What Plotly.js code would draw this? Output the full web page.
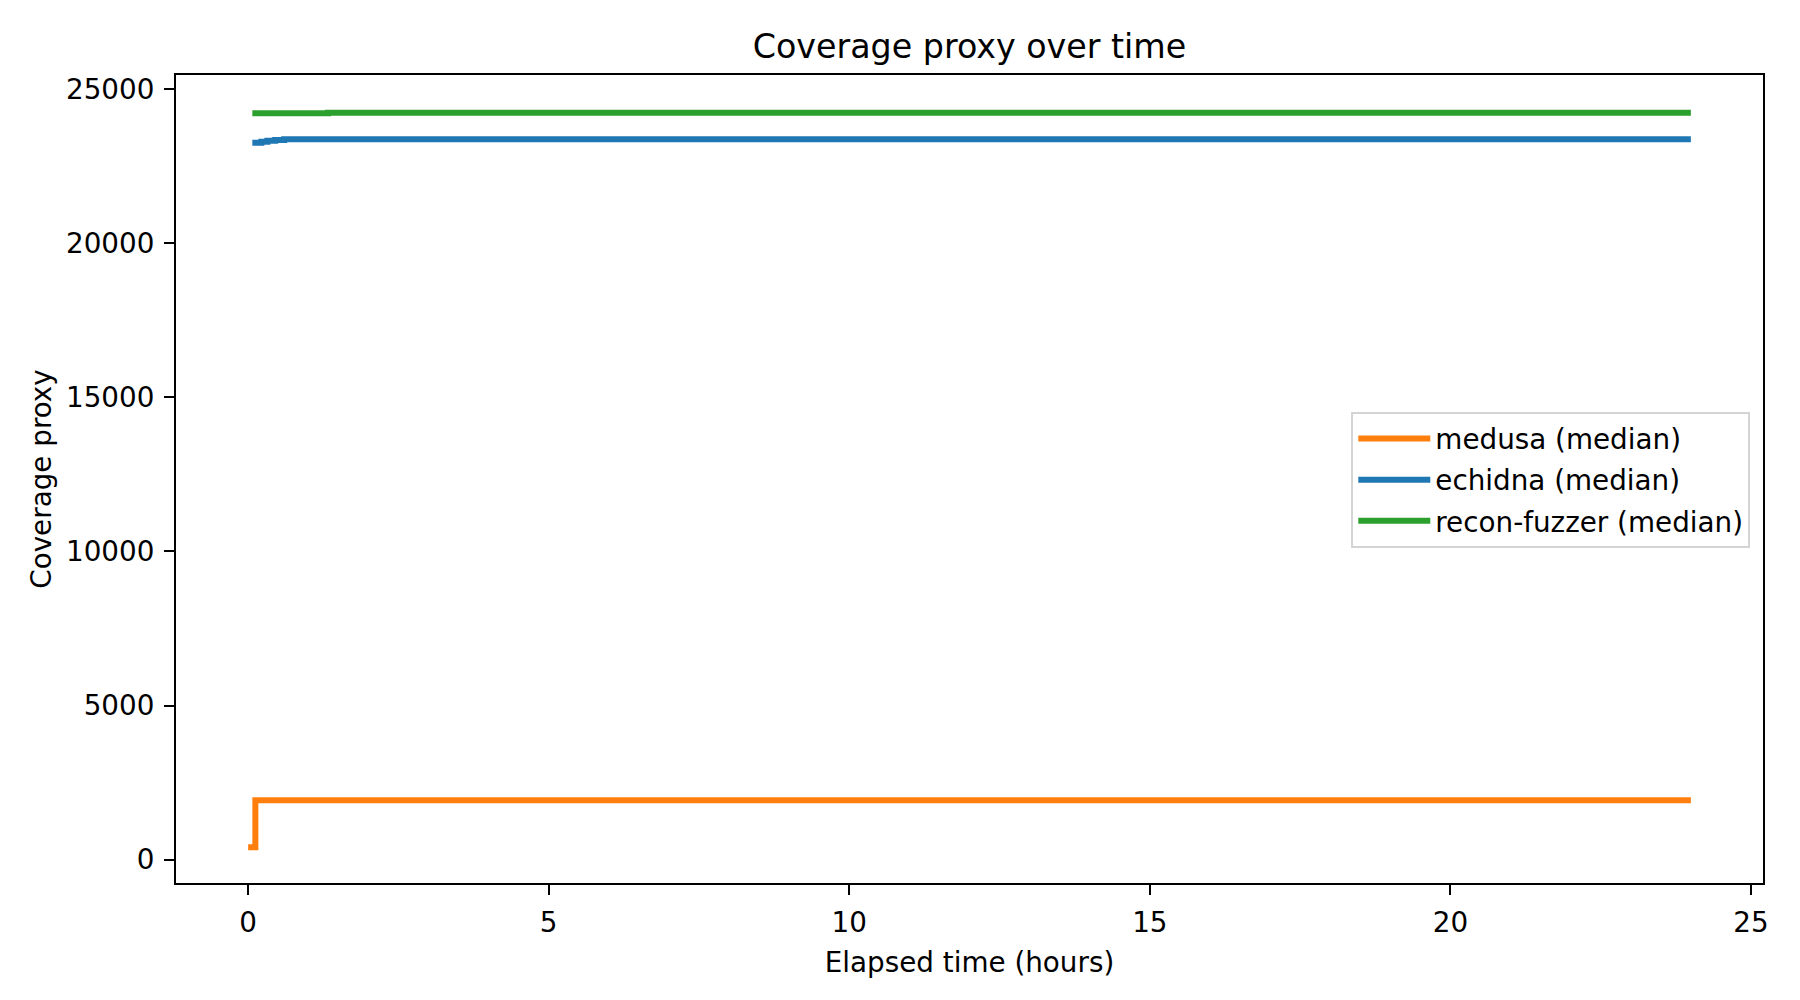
<!DOCTYPE html>
<html>
<head>
<meta charset="utf-8">
<script src="https://cdn.plot.ly/plotly-3.0.1.min.js"></script>
<style>
  html, body { margin: 0; padding: 0; background: #fff; }
  #chart { width: 1800px; height: 1000px; }
</style>
</head>
<body>
<div id="chart"></div>
<script>
"use strict";

// elapsed hours / coverage proxy
const medusaHours = [0, 0.12, 24];
const medusaCoverage = [400, 1925, 1925];

const echidnaHours = [0.07, 0.22, 0.32, 0.45, 0.6, 24];
const echidnaCoverage = [23266, 23300, 23330, 23355, 23377, 23377];

const reconHours = [0.07, 1.33, 24];
const reconCoverage = [24221, 24240, 24240];

const seriesNames = [
    "medusa (median)",
    "echidna (median)",
    "recon-fuzzer (median)",
];

const xTicks = [0, 5, 10, 15, 20, 25];
const yTicks = [0, 5000, 10000, 15000, 20000, 25000];

const font = "DejaVu Sans, sans-serif";

const stepLine = (x, y, name, color) => ({
    type: "scatter",
    mode: "lines",
    x: x,
    y: y,
    name: name,
    legendgroup: name,
    line: {
        shape: "hv",
        color: color,
        width: 6,
    },
});

const traces = [
    stepLine(medusaHours, medusaCoverage, seriesNames[0], "#ff7f0e"),
    stepLine(echidnaHours, echidnaCoverage, seriesNames[1], "#1f77b4"),
    stepLine(reconHours, reconCoverage, seriesNames[2], "#2ca02c"),
];

const axisBase = {
    showline: true,
    linecolor: "#000",
    linewidth: 2,
    mirror: true,
    showgrid: false,
    zeroline: false,
    ticks: "outside",
    ticklen: 10,
    tickwidth: 2,
    tickcolor: "#000",
    tickfont: { family: font, size: 27.8, color: "#000" },
};

Plotly.newPlot(
    "chart",
    traces,
    {
        width: 1800,
        height: 1000,
        paper_bgcolor: "#fff",
        plot_bgcolor: "#fff",
        font: { family: font, color: "#000" },
        margin: { l: 176, r: 37, t: 75, b: 117 },
        title: {
            text: "Coverage proxy over time",
            font: { family: font, size: 33.3, color: "#000" },
            x: 0.5,
            xanchor: "center",
            xref: "paper",
            y: 1 - 46 / 1000,
            yanchor: "middle",
        },
        xaxis: Object.assign({}, axisBase, {
            range: [-1.2, 25.2],
            tickvals: xTicks,
            ticktext: xTicks.map(String),
            ticklabelstandoff: 4,
            title: {
                text: "Elapsed time (hours)",
                font: { family: font, size: 27.8, color: "#000" },
                standoff: 14,
            },
        }),
        yaxis: Object.assign({}, axisBase, {
            range: [-760, 25464],
            tickvals: yTicks,
            ticktext: yTicks.map(String),
            ticklabelstandoff: 4,
            title: {
                text: "Coverage proxy",
                font: { family: font, size: 27.8, color: "#000" },
                standoff: 6,
            },
        }),
        showlegend: true,
        legend: {
            x: 0.992,
            xanchor: "right",
            y: 0.583,
            yanchor: "top",
            bgcolor: "rgba(255,255,255,0.8)",
            bordercolor: "#d4d4d4",
            borderwidth: 2,
            font: { family: font, size: 27.8, color: "#000" },
            itemwidth: 72,
            tracegroupgap: 2,
        },
    },
    {
        displayModeBar: false,
        responsive: false,
    }
);
</script>
</body>
</html>
